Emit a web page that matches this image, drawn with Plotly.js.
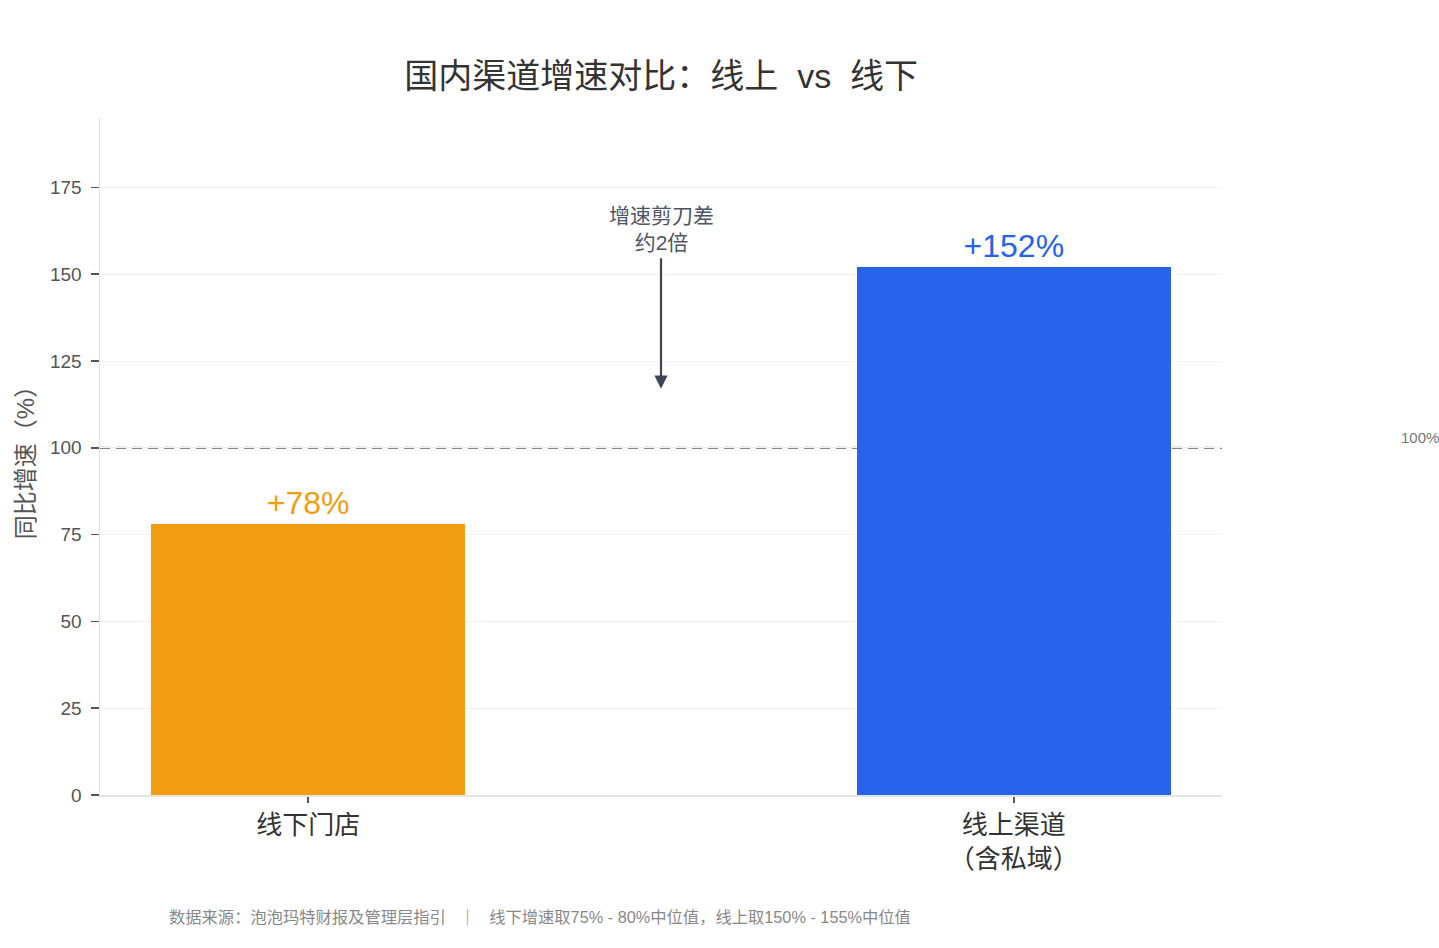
<!DOCTYPE html>
<html>
<head>
<meta charset="utf-8">
<script src="https://cdn.plot.ly/plotly-3.0.1.min.js"></script>
<style>
  html, body { margin: 0; padding: 0; background: #fff; }
  #chart { width: 1439px; height: 948px; }
</style>
</head>
<body>
<div id="chart"></div>
<script>
// 数据
const channels = ['线下门店', '线上渠道<br>（含私域）'];
const growth = [78, 152];
const barLabels = ['+78%', '+152%'];
const barColors = ['#F39C12', '#2563EB'];
const refLine = 100;
const yTicks = [0, 25, 50, 75, 100, 125, 150, 175];

const FONT = '"Liberation Sans", "Noto Sans CJK SC", sans-serif';

const bars = {
    x: [0, 1],
    y: growth,
    type: 'bar',
    width: 0.445,
    marker: { color: barColors, line: { width: 0 } },
    text: barLabels,
    textposition: 'outside',
    textfont: { family: FONT, size: 32, color: barColors },
    cliponaxis: false,
    hoverinfo: 'skip',
};

const layout = {
    width: 1439,
    height: 948,
    paper_bgcolor: '#fff',
    plot_bgcolor: '#fff',
    font: { family: FONT, color: '#555', size: 16 },
    margin: { l: 100, r: 217, t: 118, b: 153 },
    showlegend: false,
    bargap: 0,
    title: {
        text: '国内渠道增速对比：线上 &nbsp;vs&nbsp; 线下',
        x: 0.4595, xanchor: 'center',
        y: 0.92, yanchor: 'middle',
        font: { family: FONT, size: 34, color: '#333' },
    },
    xaxis: {
        range: [-0.295, 1.295],
        tickmode: 'array',
        tickvals: [0, 1],
        ticktext: channels,
        tickfont: { family: FONT, size: 26, color: '#333' },
        ticks: 'outside', ticklen: 6, tickcolor: '#555', tickwidth: 1.5,
        showline: true, linecolor: '#e3e3e3', linewidth: 1.5,
        showgrid: false, zeroline: false,
    },
    yaxis: {
        range: [0, 195],
        tickmode: 'array',
        tickvals: yTicks,
        tickfont: { family: FONT, size: 19, color: '#555' },
        ticks: 'outside', ticklen: 8, tickcolor: '#555', tickwidth: 1.5,
        ticklabelstandoff: 5,
        showline: true, linecolor: '#e3e3e3', linewidth: 1.5,
        gridcolor: '#f2f2f2', gridwidth: 1,
        zeroline: false,
        title: { text: '同比增速（%）', standoff: 8, font: { family: FONT, size: 24, color: '#555' } },
    },
    // 100% 参考线：画在网格线之上、柱子之下
    shapes: [{
        type: 'line', xref: 'paper', x0: 0, x1: 1,
        yref: 'y', y0: refLine, y1: refLine,
        line: { color: '#80868e', width: 2.2, dash: '10px,6px' },
        layer: 'between',
    }],
    annotations: [
        {
            xref: 'paper', x: 1.158, xanchor: 'left',
            yref: 'y', y: refLine, yanchor: 'bottom', yshift: 0,
            text: '100%', showarrow: false,
            font: { family: FONT, size: 15, color: '#777' },
        },
        {
            xref: 'x', x: 0.5, yref: 'y', y: 163, yanchor: 'middle',
            text: '增速剪刀差<br>约2倍', showarrow: false,
            font: { family: FONT, size: 21, color: '#4b5563' },
        },
        {
            xref: 'x', x: 0.5, yref: 'y', y: 117,
            axref: 'x', ax: 0.5, ayref: 'y', ay: 155,
            text: '', showarrow: true,
            arrowhead: 2, arrowsize: 1.2, arrowwidth: 2.2, arrowcolor: '#3d4555',
        },
        {
            xref: 'paper', x: 0.0597, xanchor: 'left',
            yref: 'paper', y: -0.18, yanchor: 'middle',
            text: '数据来源：泡泡玛特财报及管理层指引 &nbsp; ｜ &nbsp; 线下增速取75% - 80%中位值，线上取150% - 155%中位值',
            showarrow: false,
            font: { family: FONT, size: 16.3, color: '#888' },
        },
    ],
};

Plotly.newPlot('chart', [bars], layout, { displayModeBar: false, staticPlot: true });
</script>
</body>
</html>
